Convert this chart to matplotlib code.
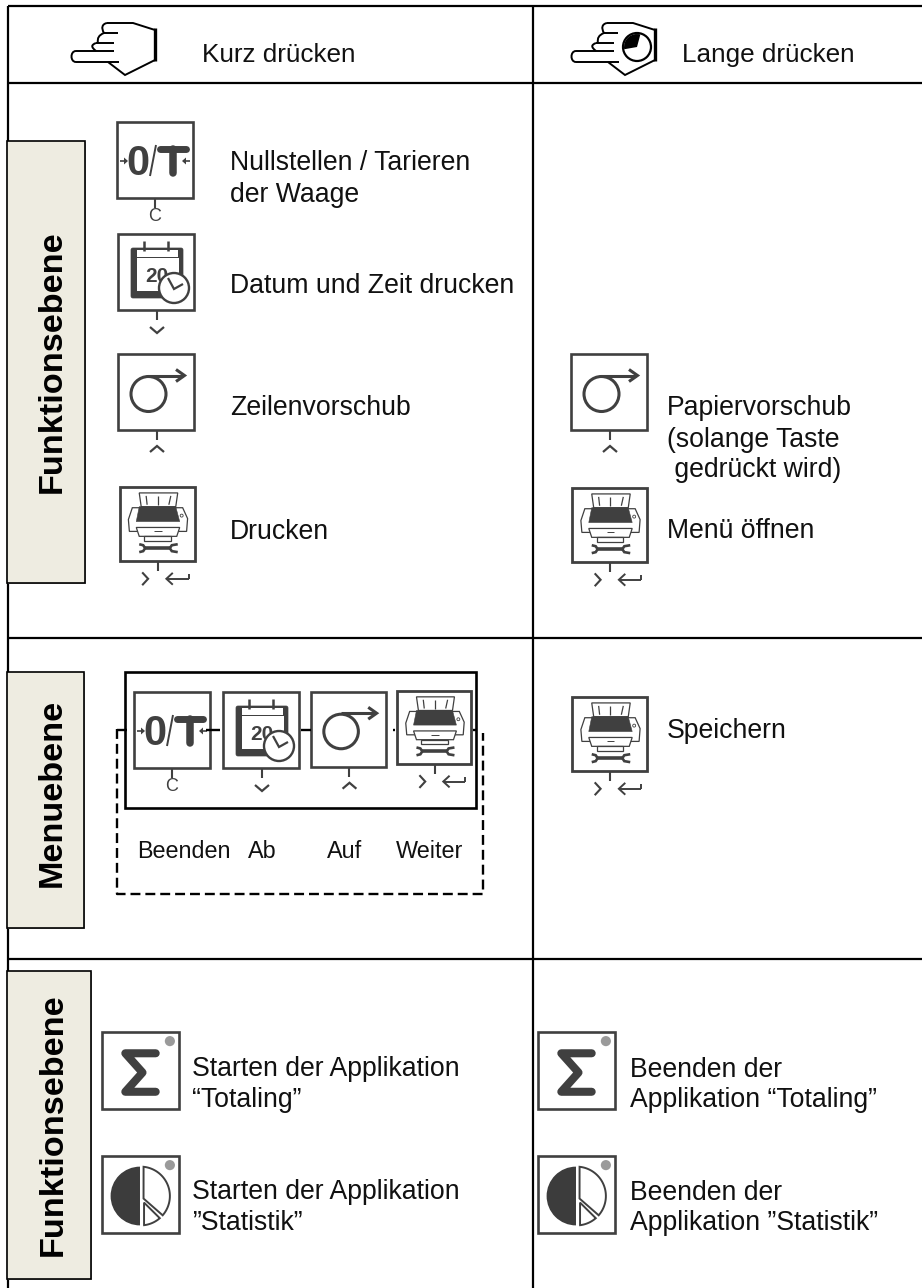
import numpy as np
import matplotlib
matplotlib.use("Agg")
import matplotlib.pyplot as plt
from matplotlib.patches import Rectangle, Circle, Wedge, Polygon, FancyBboxPatch
from matplotlib.path import Path
from matplotlib.patches import PathPatch
from matplotlib.transforms import Affine2D

plt.rcParams["font.family"] = ["Liberation Sans", "DejaVu Sans"]

# texts
header_labels = ["Kurz drücken", "Lange drücken"]
side_labels = ["Funktionsebene", "Menuebene", "Funktionsebene"]
short_labels = ["Nullstellen / Tarieren", "der Waage", "Datum und Zeit drucken", "Zeilenvorschub", "Drucken"]
long_labels = ["Papiervorschub", "(solange Taste", " gedrückt wird)", "Menü öffnen", "Speichern"]
menu_labels = ["Beenden", "Ab", "Auf", "Weiter"]
app_short = ["Starten der Applikation", "“Totaling”", "Starten der Applikation", "”Statistik”"]
app_long = ["Beenden der", "Applikation “Totaling”", "Beenden der", "Applikation ”Statistik”"]

# layout, in pixels of the page
short_xy = [(230, 170), (230, 201.5), (230, 293), (230, 415), (230, 539)]
long_xy = [(667, 415), (667, 447), (667, 477), (667, 538), (667, 738)]
menu_xy = [(137, 858), (248, 858), (327, 858), (396, 858)]
app_short_xy = [(192, 1076), (192, 1107), (192, 1199), (192, 1230)]
app_long_xy = [(630, 1077), (630, 1107), (630, 1200), (630, 1230)]
side_boxes = [(7, 141, 78, 442), (7, 672, 77, 256), (7, 971, 84, 308)]
side_text = [(61, 493), (61, 887), (62, 1256)]

DARK = "#404040"
TEXT_SIZE = 19.2
HEAD_SIZE = 18.8

fig = plt.figure(figsize=(9.22, 12.88), dpi=100)
ax = fig.add_axes([0, 0, 1, 1])
ax.set_xlim(0, 922)
ax.set_ylim(1288, 0)
ax.axis("off")


def local(x, y, s=76):
    return Affine2D().scale(s / 76).translate(x, y) + ax.transData


def line(xs, ys, tr=None, lw=1.5, c=DARK, **kw):
    ax.plot(xs, ys, color=c, lw=lw, transform=tr or ax.transData, solid_capstyle=kw.pop("cap", "butt"),
            solid_joinstyle=kw.pop("join", "miter"), zorder=kw.pop("zorder", 5), **kw)


def key_box(tr):
    ax.add_patch(Rectangle((0, 0), 76, 76, fc="white", ec=DARK, lw=1.9, transform=tr, zorder=4))


def stem(tr, x=39):
    line([x, x], [76, 86], tr, lw=1.5)


def chevron(tr, down=True, x=39):
    a, b = (93, 99) if down else (98, 92)
    line([x - 7, x, x + 7], [a, b, a], tr, lw=1.6)


def arc_points(cx, cy, r, a0, a1):
    t = np.radians(np.linspace(a0, a1, 40))
    return list(zip(cx + r * np.cos(t), cy + r * np.sin(t)))


def icon_zero(x, y, s=76):
    tr = local(x, y, s)
    key_box(tr)
    ax.text(21, 53, "0", transform=tr, fontsize=30 * s / 76, fontweight="bold", color=DARK,
            ha="center", va="baseline", zorder=6)
    line([33, 39], [54, 23], tr, lw=1.4)
    line([43, 69], [26.5, 26.5], tr, lw=5.0, cap="round")
    line([56, 56], [27, 51], tr, lw=5.4, cap="round")
    for x0, x1, head in ((3, 8, 1), (73, 68, -1)):
        line([x0, x1], [39, 39], tr, lw=1.2)
        ax.add_patch(Polygon([(x1 + head * 3, 39), (x1 - head * 1, 35.5), (x1 - head * 1, 42.5)], fc=DARK, ec="none",
                             transform=tr, zorder=5))
    stem(tr, 38)
    ax.text(38, 99, "C", transform=tr, fontsize=13 * s / 76, color=DARK, ha="center", va="baseline", zorder=6)


def icon_calendar(x, y, s=76):
    tr = local(x, y, s)
    key_box(tr)
    ax.add_patch(FancyBboxPatch((13, 14), 52, 50, boxstyle="round,pad=0,rounding_size=2", fc=DARK, ec=DARK, lw=0.5,
                                transform=tr, zorder=5))
    ax.add_patch(Rectangle((19, 15.5), 41, 7, fc="white", ec="none", transform=tr, zorder=5))
    ax.add_patch(Rectangle((18.5, 24), 42, 33, fc="white", ec="none", transform=tr, zorder=5))
    for rx in (26, 50):
        line([rx, rx], [7, 17], tr, lw=1.8, zorder=6)
    ax.text(27, 47.5, "20", transform=tr, fontsize=15 * s / 76, fontweight="bold", color=DARK, ha="left", va="baseline", zorder=6)
    ax.add_patch(Circle((56, 54), 15, fc="white", ec=DARK, lw=1.7, transform=tr, zorder=7))
    line([50, 56, 65], [44, 55, 50], tr, lw=1.6, zorder=8)
    stem(tr)
    chevron(tr, down=True)


def icon_loop(x, y, s=76):
    tr = local(x, y, s)
    key_box(tr)
    ax.add_patch(Circle((30.5, 40), 17.5, fc="none", ec=DARK, lw=2.2, transform=tr, zorder=5))
    line([30, 65], [21.5, 21.5], tr, lw=2.2, zorder=5)
    line([58, 66.5, 58], [15.5, 21.5, 27.5], tr, lw=2.2, zorder=5)
    stem(tr)
    chevron(tr, down=False)


def icon_printer(x, y, s=75):
    tr = local(x, y, s)
    ax.add_patch(Rectangle((0, 0), 76, 75, fc="white", ec=DARK, lw=2.0, transform=tr, zorder=4))
    ax.add_patch(Polygon([(20, 6), (59, 6), (57, 20), (22, 20)], fc="white", ec=DARK, lw=0.9, transform=tr, zorder=5))
    for lx0, lx1 in ((27, 28), (39, 39), (52, 50)):
        line([lx0, lx1], [9, 18], tr, lw=0.9, zorder=6)
    ax.add_patch(Polygon([(13, 21), (9, 33), (10, 45), (68, 45), (69, 32), (64, 21)], fc="white", ec=DARK, lw=0.9,
                         transform=tr, zorder=5))
    ax.add_patch(Polygon([(20, 20), (57, 20), (61, 35), (17, 35)], fc=DARK, ec=DARK, lw=0.4, transform=tr, zorder=6))
    ax.add_patch(Circle((63, 29), 1.5, fc="white", ec=DARK, lw=0.6, transform=tr, zorder=6))
    ax.add_patch(Polygon([(17, 41), (61, 41), (58, 50), (20, 50)], fc="white", ec=DARK, lw=0.9, transform=tr, zorder=6))
    ax.add_patch(Rectangle((25, 50), 27, 4.5, fc="white", ec=DARK, lw=0.9, transform=tr, zorder=6))
    line([35, 43], [45, 45], tr, lw=0.7, zorder=7)
    # wrench
    line([25, 52], [62, 62], tr, lw=2.6, zorder=6)
    line([20, 24, 26, 24, 20], [58, 59, 62, 65, 66], tr, lw=1.9, zorder=6)
    line([59, 53, 51, 53, 59], [58, 59, 62, 65, 66], tr, lw=1.9, zorder=6)
    line([39, 39], [75, 85], tr, lw=1.5)
    line([23, 29, 23], [86.5, 93, 99.5], tr, lw=1.5)
    line([70, 48], [93, 93], tr, lw=1.4)
    line([70, 70], [93, 88], tr, lw=1.4)
    line([54, 47.5, 54], [87, 93, 99], tr, lw=1.4)


def icon_sigma(x, y, s=77):
    tr = local(x, y, s)
    key_box(tr)
    line([53, 23, 40, 23, 53], [21, 21, 40, 59, 59], tr, lw=5.8, cap="round", join="round")
    ax.add_patch(Circle((67, 9), 5, fc="#9a9a9a", ec="none", transform=tr, zorder=5))


def icon_pie(x, y, s=77):
    tr = local(x, y, s)
    key_box(tr)
    ax.add_patch(Wedge((37.5, 39.5), 29, 90, 270, fc="#3c3c3c", ec="none", transform=tr, zorder=5))
    big = [(41, 42)] + arc_points(38, 39.5, 29, 276, 360 + 41)
    small = [(41.5, 46)] + arc_points(38, 39.5, 29, 49, 83) + [(41.5, 68)]
    for pts in (big, small):
        ax.add_patch(Polygon(pts, fc="white", ec=DARK, lw=1.4, transform=tr, zorder=5))
    ax.add_patch(Circle((67, 9), 5, fc="#9a9a9a", ec="none", transform=tr, zorder=6))


def hand(dx):
    tr = Affine2D().translate(dx, 0) + ax.transData
    verts = [(108, 62), (125, 75), (155, 60), (155, 30), (133, 23), (107, 23)]
    line([v[0] for v in verts], [v[1] for v in verts], tr, lw=1.4, c="black")
    line([155, 155], [28, 61], tr, lw=2.4, c="black")
    line([119, 76], [62, 62], tr, lw=1.4, c="black")
    line([76, 114], [51, 51], tr, lw=1.4, c="black")
    ax.add_patch(PathPatch(Path([(76, 51), (70, 51), (70, 62), (76, 62)], [Path.MOVETO, Path.CURVE4, Path.CURVE4, Path.CURVE4]),
                           fc="none", ec="black", lw=1.4, transform=tr))
    line([96, 114], [43, 43], tr, lw=1.4, c="black")
    line([104, 118], [33, 33], tr, lw=1.4, c="black")
    ax.add_patch(PathPatch(Path([(96, 51), (91, 47), (91, 45), (96, 43)], [Path.MOVETO, Path.CURVE4, Path.CURVE4, Path.CURVE4]),
                           fc="none", ec="black", lw=1.4, transform=tr))
    ax.add_patch(PathPatch(Path([(98, 43), (97, 38), (99, 35), (104, 33)], [Path.MOVETO, Path.CURVE4, Path.CURVE4, Path.CURVE4]),
                           fc="none", ec="black", lw=1.4, transform=tr))
    ax.add_patch(PathPatch(Path([(104, 33), (101, 28), (102, 24), (107, 23)], [Path.MOVETO, Path.CURVE4, Path.CURVE4, Path.CURVE4]),
                           fc="none", ec="black", lw=1.4, transform=tr))


# table grid
for yy in (6, 83, 638, 959):
    line([8, 922], [yy, yy], lw=1.6, c="black", zorder=1)
for xx in (8, 533):
    line([xx, xx], [6, 1288], lw=1.6, c="black", zorder=1)

# side labels
for (bx, by, bw, bh), (tx, ty), lab in zip(side_boxes, side_text, side_labels):
    ax.add_patch(Rectangle((bx + 1, by + 1), bw, bh, fc="#a8a8a8", ec="none", zorder=2))
    ax.add_patch(Rectangle((bx, by), bw, bh, fc="#EEECE1", ec="black", lw=1.2, zorder=3))
    ax.text(tx, ty, lab, rotation=90, rotation_mode="anchor", ha="left", va="baseline",
            fontsize=24.7, fontweight="bold", color="black", zorder=6)

# header
hand(0)
hand(500)
ax.add_patch(Circle((637, 47), 14, fc="white", ec="black", lw=1.6, zorder=6))
ax.add_patch(Wedge((637, 47), 13, 170, 285, fc="black", ec="none", zorder=7))
ax.text(202, 62, header_labels[0], fontsize=HEAD_SIZE, ha="left", va="baseline", color="#111111")
ax.text(682, 62, header_labels[1], fontsize=HEAD_SIZE, ha="left", va="baseline", color="#111111")

# first block
icon_zero(117, 122)
icon_calendar(118, 234)
icon_loop(118, 354)
icon_printer(119.5, 487)
icon_loop(571, 354)
icon_printer(572, 488)
for lab, (tx, ty) in zip(short_labels, short_xy):
    ax.text(tx, ty, lab, fontsize=TEXT_SIZE, ha="left", va="baseline", color="#111111")
for lab, (tx, ty) in zip(long_labels, long_xy):
    ax.text(tx, ty, lab, fontsize=TEXT_SIZE, ha="left", va="baseline", color="#111111")

# menu block
line([117, 117, 483, 483], [729, 894, 894, 733], lw=1.7, c="black", zorder=2, ls=(0, (4.2, 2.1)))
for x0, x1 in ((117, 127), (206, 220), (301, 311), (393, 395), (473, 476)):
    line([x0, x1], [729.5, 729.5], lw=1.7, c="black", zorder=6)
ax.add_patch(Rectangle((125, 672), 351, 136, fc="white", ec="black", lw=1.9, zorder=3))
icon_zero(134, 692)
icon_calendar(223, 692)
icon_loop(311, 692, 75)
icon_printer(397, 691, 74)
icon_printer(572, 697)
for lab, (tx, ty) in zip(menu_labels, menu_xy):
    ax.text(tx, ty, lab, fontsize=16.8, ha="left", va="baseline", color="#111111")

# application block
icon_sigma(102, 1032)
icon_pie(102, 1156)
icon_sigma(538, 1032)
icon_pie(538, 1156)
for lab, (tx, ty) in zip(app_short + app_long, app_short_xy + app_long_xy):
    ax.text(tx, ty, lab, fontsize=TEXT_SIZE, ha="left", va="baseline", color="#111111")

fig.savefig("out.png", dpi=100)
